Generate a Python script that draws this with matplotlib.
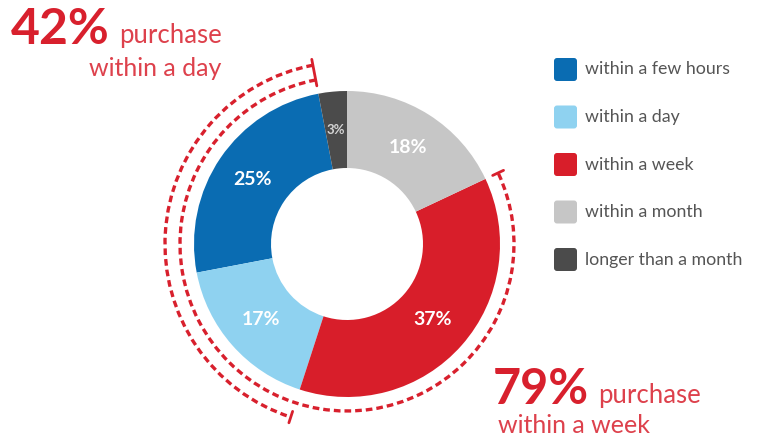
import numpy as np
import matplotlib.pyplot as plt
from matplotlib.patches import Arc, FancyBboxPatch

# ---------------- data ----------------
categories = ['within a few hours', 'within a day', 'within a week',
              'within a month', 'longer than a month']
shares = [25, 17, 37, 18, 3]
colors = ['#0a6cb2', '#8fd2f0', '#d81e2a', '#c6c6c6', '#4b4b4b']
day_share = 42     # few hours + day
week_share = 79    # few hours + day + week

RED = '#d8202d'
plt.rcParams['font.family'] = ['Lato', 'DejaVu Sans']

fig = plt.figure(figsize=(7.6, 4.38), dpi=100)
ax = fig.add_axes([0, 0, 1, 1])

# pixel-ish coordinates, y going up
cx, cy = 347, 438 - 244
R, W = 153, 77

total = float(sum(shares))
start = 90 + shares[-1] / total * 360   # "longer than a month" sits just left of 12 o'clock

wedges, _, autotexts = ax.pie(
    shares, colors=colors, startangle=start, counterclock=True,
    radius=R, center=(cx, cy), autopct='%d%%', pctdistance=0.75,
    wedgeprops=dict(width=W, edgecolor='none'),
    textprops=dict(color='white', fontsize=14, fontweight='bold'))
autotexts[-1].set_fontsize(9.5)
autotexts[-1].set_color('#d5d5d5')

# ---------------- dashed brackets ----------------
def deg(pct):
    return start + pct / total * 360

def tick(angle, r0, r1):
    a = np.radians(angle)
    ax.plot([cx + r0 * np.cos(a), cx + r1 * np.cos(a)],
            [cy + r0 * np.sin(a), cy + r1 * np.sin(a)],
            color=RED, lw=2, solid_capstyle='round')

dash = (0, (2.0, 1.2))
r_day, r_week = 182, 167
ax.add_patch(Arc((cx, cy), 2 * r_day, 2 * r_day, theta1=deg(0), theta2=deg(day_share),
                 color=RED, lw=2.4, linestyle=dash))
ax.add_patch(Arc((cx, cy), 2 * r_week, 2 * r_week, theta1=deg(0), theta2=deg(week_share),
                 color=RED, lw=2.4, linestyle=dash))
tick(deg(0), r_week - 6, r_day + 6)
tick(deg(day_share), r_day - 6, r_day + 6)
tick(deg(week_share), r_week - 6, r_week + 6)

# ---------------- callout texts ----------------
ax.text(11, 438 - 44, '42%', color=RED, fontsize=36, fontweight='bold', va='baseline')
ax.text(119, 438 - 43, 'purchase', color=RED, fontsize=18.5, va='baseline', alpha=0.85)
ax.text(89, 438 - 76, 'within a day', color=RED, fontsize=18, va='baseline', alpha=0.85)

ax.text(493, 438 - 404, '79%', color=RED, fontsize=35, fontweight='bold', va='baseline')
ax.text(598, 438 - 403, 'purchase', color=RED, fontsize=18.5, va='baseline', alpha=0.85)
ax.text(498, 438 - 433, 'within a week', color=RED, fontsize=18, va='baseline', alpha=0.85)

# ---------------- legend ----------------
row_y = [69.5, 117, 164.5, 212, 259.5]
for name, col, y in zip(categories, colors, row_y):
    ax.add_patch(FancyBboxPatch((554, 438 - y - 11.5), 23, 23,
                                boxstyle='round,pad=0,rounding_size=3',
                                facecolor=col, edgecolor='none'))
    ax.text(585, 438 - y, name, color='#555555', fontsize=12.8, va='center')

ax.set_xlim(0, 760)
ax.set_ylim(0, 438)
ax.set_aspect('auto')
ax.axis('off')

fig.savefig('out.png', dpi=100)
